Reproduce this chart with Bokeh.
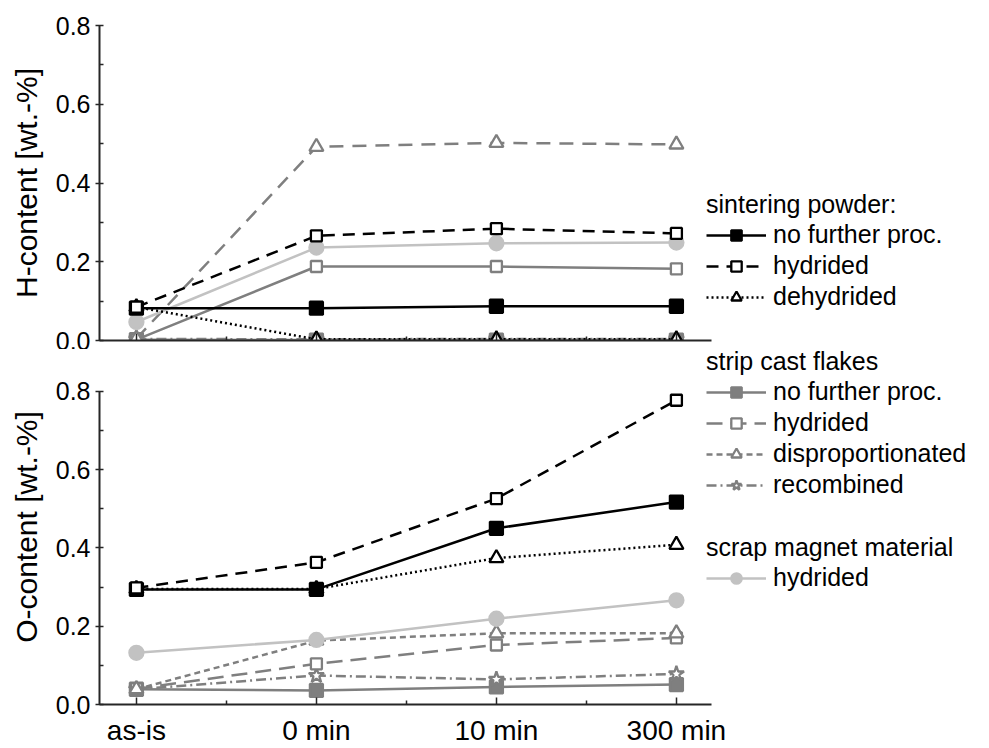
from bokeh.plotting import figure
from bokeh.models import Range1d, FixedTicker, PrintfTickFormatter, Legend, LegendItem
from bokeh.layouts import column
from bokeh.embed import file_html
from bokeh.resources import INLINE

# ---------------- data ----------------
categories = ["as-is", "0 min", "10 min", "300 min"]
x_pos = [0, 1, 2, 3]
x_minor = [0.5, 1.5, 2.5]
y_ticks = [0.0, 0.2, 0.4, 0.6, 0.8]
y_minor = [0.1, 0.3, 0.5, 0.7]

# H-content [wt.-%]
sint_none_H = [0.082, 0.082, 0.087, 0.087]
sint_hyd_H = [0.085, 0.266, 0.284, 0.272]
sint_dehyd_H = [0.085, 0.003, 0.003, 0.003]
strip_none_H = [0.002, 0.001, 0.001, 0.001]
strip_hyd_H = [0.002, 0.188, 0.188, 0.182]
strip_disp_H = [0.005, 0.492, 0.502, 0.498]
strip_rec_H = [0.004, 0.003, 0.004, 0.004]
scrap_hyd_H = [0.047, 0.236, 0.247, 0.249]

# O-content [wt.-%]
sint_none_O = [0.294, 0.294, 0.450, 0.517]
sint_hyd_O = [0.298, 0.363, 0.526, 0.777]
sint_dehyd_O = [0.295, 0.295, 0.374, 0.408]
strip_none_O = [0.039, 0.036, 0.045, 0.051]
strip_hyd_O = [0.040, 0.104, 0.152, 0.170]
strip_disp_O = [0.039, 0.163, 0.182, 0.182]
strip_rec_O = [0.039, 0.074, 0.064, 0.078]
scrap_hyd_O = [0.132, 0.165, 0.219, 0.266]

# ---------------- styles ----------------
BLACK = "#000000"
GRAY = "#7f7f7f"
LIGHT = "#c2c2c2"
AXIS = "#262626"
FONT = "Liberation Sans"

# key: (color, dash in H panel, dash in O panel, marker, size, filled)
styles = {
    "strip_none": (GRAY, "solid", "solid", "square", 13, True),
    "strip_hyd": (GRAY, "solid", "16 8", "square", 11, False),
    "strip_disp": (GRAY, "14 9", "6 4", "triangle", 14, False),
    "strip_rec": (GRAY, "10 4 2 4", "10 4 2 4", "star", 16, False),
    "scrap_hyd": (LIGHT, "solid", "solid", "circle", 14, True),
    "sint_none": (BLACK, "solid", "solid", "square", 13, True),
    "sint_hyd": (BLACK, "12 8", "12 8", "square", 11, False),
    "sint_dehyd": (BLACK, "2 3", "2 3", "triangle", 14, False),
}

H_data = {
    "strip_none": strip_none_H, "strip_hyd": strip_hyd_H, "strip_disp": strip_disp_H,
    "strip_rec": strip_rec_H, "scrap_hyd": scrap_hyd_H, "sint_none": sint_none_H,
    "sint_hyd": sint_hyd_H, "sint_dehyd": sint_dehyd_H,
}
O_data = {
    "strip_none": strip_none_O, "strip_hyd": strip_hyd_O, "strip_disp": strip_disp_O,
    "strip_rec": strip_rec_O, "scrap_hyd": scrap_hyd_O, "sint_none": sint_none_O,
    "sint_hyd": sint_hyd_O, "sint_dehyd": sint_dehyd_O,
}
order = ["strip_none", "strip_rec", "strip_hyd", "strip_disp", "scrap_hyd",
         "sint_dehyd", "sint_none", "sint_hyd"]

X_START = -0.205
X_AXIS_END = 3.195
PX_PER_X = 180.0
FRAME_W = 890


def make_panel(height, b_top, b_bottom, y_end, ylabel, data, bottom):
    p = figure(width=989, height=height, output_backend="svg", toolbar_location=None,
               x_range=Range1d(X_START, X_START + FRAME_W / PX_PER_X),
               y_range=Range1d(0, y_end),
               min_border_left=99, min_border_right=0,
               min_border_top=b_top, min_border_bottom=b_bottom)
    p.outline_line_color = None
    p.xgrid.visible = False
    p.ygrid.visible = False
    p.background_fill_color = "white"
    p.border_fill_color = "white"

    xa = p.xaxis[0]
    xa.bounds = (X_START, X_AXIS_END)
    xa.ticker = FixedTicker(ticks=x_pos, minor_ticks=x_minor)
    xa.major_label_overrides = {i: c for i, c in zip(x_pos, categories)}
    xa.major_tick_in = 7
    xa.major_tick_out = 0
    xa.minor_tick_in = 4
    xa.minor_tick_out = 0
    xa.axis_line_width = 2
    xa.axis_line_color = AXIS
    xa.major_tick_line_width = 1.5
    xa.minor_tick_line_width = 1.5
    xa.major_tick_line_color = AXIS
    xa.minor_tick_line_color = AXIS
    if bottom:
        xa.major_label_text_font = FONT
        xa.major_label_text_font_size = "28px"
        xa.major_label_text_color = "black"
        xa.major_label_standoff = 10
    else:
        xa.major_label_text_font_size = "0px"
        xa.major_label_overrides = {i: "" for i in x_pos}
        xa.major_label_standoff = 0

    ya = p.yaxis[0]
    ya.bounds = (0, 0.8)
    ya.ticker = FixedTicker(ticks=y_ticks, minor_ticks=y_minor)
    ya.formatter = PrintfTickFormatter(format="%.1f")
    ya.major_tick_in = 4
    ya.major_tick_out = 4
    ya.minor_tick_in = 4
    ya.minor_tick_out = 0
    ya.axis_line_width = 2
    ya.axis_line_color = AXIS
    ya.major_tick_line_width = 1.5
    ya.minor_tick_line_width = 1.5
    ya.major_tick_line_color = AXIS
    ya.minor_tick_line_color = AXIS
    ya.major_label_text_font = FONT
    ya.major_label_text_font_size = "25px"
    ya.major_label_text_color = "black"
    ya.major_label_standoff = 5
    ya.axis_label = ylabel
    ya.axis_label_text_font = FONT
    ya.axis_label_text_font_size = "30px"
    ya.axis_label_text_font_style = "normal"
    ya.axis_label_text_color = "black"
    ya.axis_label_standoff = 10

    rends = {}
    for key in order:
        color, dash_t, dash_b, marker, size, filled = styles[key]
        dash = dash_b if bottom else dash_t
        ys = data[key]
        lr = p.line(x_pos, ys, line_color=color, line_width=2.5, line_dash=dash)
        sr = p.scatter(x_pos, ys, marker=marker, size=size, line_color=color,
                       line_width=2.3, fill_color=color if filled else "white")
        rends[key] = (lr, sr)
    return p, rends


def make_legend(title, entries, rends, loc):
    items = [LegendItem(label=lab, renderers=list(rends[k])) for lab, k in entries]
    lg = Legend(items=items, title=title, location=loc)
    lg.label_text_font = FONT
    lg.label_text_font_size = "25px"
    lg.label_text_color = "black"
    lg.title_text_font = FONT
    lg.title_text_font_size = "25px"
    lg.title_text_font_style = "normal"
    lg.title_text_color = "black"
    lg.title_standoff = 1
    lg.glyph_width = 60
    lg.glyph_height = 26
    lg.label_height = 26
    lg.label_standoff = 7
    lg.spacing = 2
    lg.padding = 4
    lg.margin = 0
    lg.border_line_color = None
    lg.background_fill_alpha = 0
    return lg


# top panel: frame 25..340 px ; bottom panel: frame 349..706 px with 0.8 at 391 px
TOP_H = 349
top, top_r = make_panel(TOP_H, 25, TOP_H - 340, 0.8002, "H-content [wt.-%]", H_data, False)
bot, bot_r = make_panel(748 - TOP_H, 0, 42, 0.8 * (706 - TOP_H) / 315,
                        "O-content [wt.-%]", O_data, True)

top.add_layout(make_legend("sintering powder:",
                           [("no further proc.", "sint_none"), ("hydrided", "sint_hyd"),
                            ("dehydrided", "sint_dehyd")], top_r, (607, 29)))
bot.add_layout(make_legend("strip cast flakes",
                           [("no further proc.", "strip_none"), ("hydrided", "strip_hyd"),
                            ("disproportionated", "strip_disp"), ("recombined", "strip_rec")],
                           bot_r, (607, 205)))
bot.add_layout(make_legend("scrap magnet material",
                           [("hydrided", "scrap_hyd")], bot_r, (607, 112)))

layout = column(top, bot, spacing=0)
open("out.html", "w").write(file_html(layout, INLINE))
